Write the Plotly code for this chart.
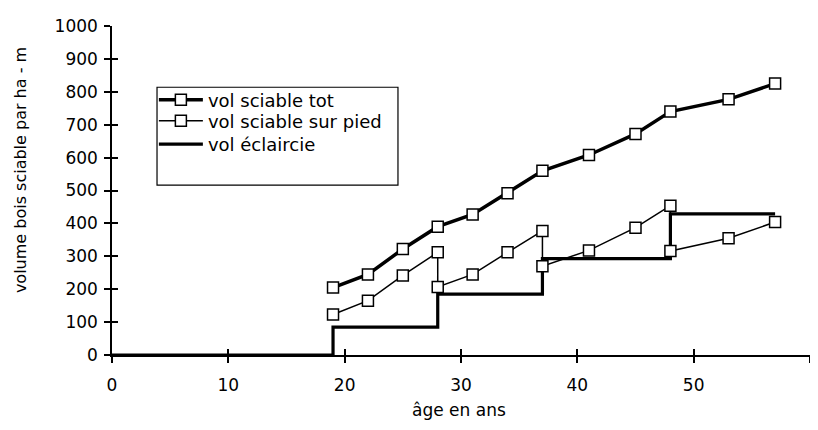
import plotly.graph_objects as go

# ---- data ----
age_tot = [19, 22, 25, 28, 31, 34, 37, 41, 45, 48, 53, 57]
vol_tot = [205, 245, 322, 390, 427, 492, 560, 608, 672, 740, 777, 825]

age_pied = [19, 22, 25, 28, 28, 31, 34, 37, 37, 41, 45, 48, 48, 53, 57]
vol_pied = [123, 165, 242, 312, 207, 245, 312, 377, 270, 318, 387, 454, 316, 355, 404]

age_ecl = [0, 19, 28, 37, 48, 57]
vol_ecl = [0, 85, 185, 293, 429, 429]

x_ticks = [0, 10, 20, 30, 40, 50, 60]
y_ticks = [0, 100, 200, 300, 400, 500, 600, 700, 800, 900, 1000]

FONT = "DejaVu Sans"
marker = dict(symbol="square", size=11, color="white", line=dict(color="black", width=1.5))

fig = go.Figure()
fig.add_trace(go.Scatter(x=age_ecl, y=vol_ecl, mode="lines", name="vol éclaircie",
                         line=dict(color="black", width=3.2, shape="hv"), legend="legend3"))
fig.add_trace(go.Scatter(x=age_pied, y=vol_pied, mode="lines+markers", name="vol sciable sur pied",
                         line=dict(color="black", width=1.5), marker=marker, legend="legend2"))
fig.add_trace(go.Scatter(x=age_tot, y=vol_tot, mode="lines+markers", name="vol sciable tot",
                         line=dict(color="black", width=3.5), marker=marker, legend="legend"))
# empty helper traces so the overlaid (inside-tick) axes are drawn
fig.add_trace(go.Scatter(x=[], y=[], xaxis="x2", yaxis="y", showlegend=False, hoverinfo="skip"))
fig.add_trace(go.Scatter(x=[], y=[], xaxis="x", yaxis="y2", showlegend=False, hoverinfo="skip"))

axis_common = dict(showgrid=False, zeroline=False, showline=True, linecolor="black", linewidth=1.5,
                   tickcolor="black", tickwidth=1.5, ticklen=6,
                   tickfont=dict(family=FONT, size=17, color="black"))

leg_common = dict(x=0.060, xanchor="left", yanchor="middle", bgcolor="rgba(0,0,0,0)",
                  borderwidth=0, font=dict(family=FONT, size=18, color="black"), itemwidth=44)

fig.update_layout(
    width=810, height=422,
    margin=dict(l=104, r=8, t=14, b=75),
    paper_bgcolor="white", plot_bgcolor="white",
    font=dict(family=FONT, color="black"),
    xaxis=dict(range=[0, 60], tickvals=x_ticks, ticks="outside", ticklabelstandoff=8, **axis_common),
    yaxis=dict(range=[0, 1000], tickvals=y_ticks, ticks="outside", ticklabelstandoff=3, **axis_common),
    xaxis2=dict(range=[0, 60], tickvals=x_ticks, ticks="inside", overlaying="x", anchor="y",
                showticklabels=False, showgrid=False, zeroline=False, showline=False,
                tickcolor="black", tickwidth=1.5, ticklen=6),
    yaxis2=dict(range=[0, 1000], tickvals=y_ticks, ticks="inside", overlaying="y", anchor="x",
                showticklabels=False, showgrid=False, zeroline=False, showline=False,
                tickcolor="black", tickwidth=1.5, ticklen=6),
    showlegend=True,
    legend=dict(y=0.775, **leg_common),
    legend2=dict(y=0.711, **leg_common),
    legend3=dict(y=0.640, **leg_common),
    shapes=[dict(type="rect", xref="paper", yref="paper", x0=0.0645, x1=0.4097, y0=0.5165, y1=0.8138,
                 line=dict(color="black", width=1.2), fillcolor="white", layer="below")],
    annotations=[
        dict(text="âge en ans", xref="paper", yref="paper", x=0.497, y=-0.168,
             xanchor="center", yanchor="middle", showarrow=False,
             font=dict(family=FONT, size=17, color="black")),
        dict(text="volume bois sciable par ha - m", xref="paper", yref="paper", x=-0.1318, y=0.562,
             xanchor="center", yanchor="middle", textangle=-90, showarrow=False,
             font=dict(family=FONT, size=16, color="black")),
    ],
)

fig.write_html("out.html")
